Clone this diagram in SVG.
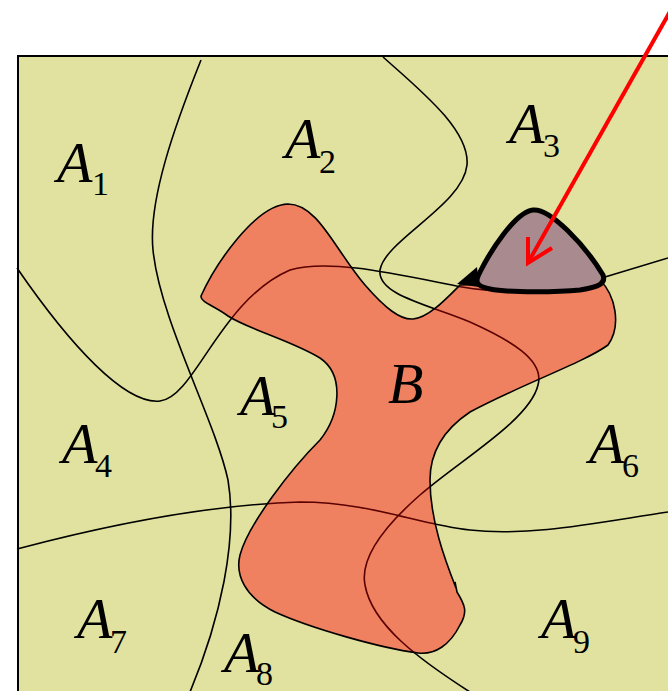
<svg xmlns="http://www.w3.org/2000/svg" xmlns:xlink="http://www.w3.org/1999/xlink" width="668" height="691" viewBox="0 0 668 691">
<style>
.bd{fill:none;stroke:#000;stroke-width:1.6}
.bdi{fill:none;stroke:#5a0000;stroke-width:1.6}
.lab{font-family:"Liberation Serif","Times New Roman",serif;font-style:italic;font-size:58px;fill:#000}
.sub{font-family:"Liberation Serif","Times New Roman",serif;font-size:34px;fill:#000}
</style>
<defs>
<path id="c1" d="M201,60 C175,125 148,200 153,250 C160,320 215,420 228,480 C238,540 220,620 190,692"/>
<path id="c2" d="M17,268 C70,345 125,405 160,401 C195,397 220,300 290,270 C330,258 400,275 462,287 C520,297 580,285 605,277 L668,258"/>
<path id="c3" d="M383,57 C420,90 470,130 467,165 C463,205 385,240 380,270 C377,295 430,305 470,322 C510,340 545,360 538,385 C530,420 460,460 420,495 C380,530 360,560 365,585 C372,625 420,660 470,692"/>
<path id="c4" d="M17,549 C100,527 200,505 300,502 C370,502 420,525 470,530 C530,537 600,522 668,512"/>
<path id="bpath" d="M201,296 C215,265 255,205 288,204 C318,204 335,250 365,285 C385,308 400,320 413,319 C428,318 445,300 460,285 L600,280 C615,295 622,325 608,345 C585,362 520,385 470,412 C440,432 430,455 430,480 C430,520 445,560 456,588 L455,582 L457,592 C465,605 468,612 460,625 C450,645 435,655 418,653 C380,648 310,628 275,612 C245,597 235,575 240,555 C248,525 290,470 320,440 C340,415 345,375 320,358 C290,340 250,330 228,316 C215,306 200,302 201,296 Z"/>
<clipPath id="bclip"><use xlink:href="#bpath"/></clipPath>
</defs>
<rect x="18" y="56" width="700" height="700" fill="#e1e29f" stroke="#000" stroke-width="2"/>
<g id="connectors">
<use xlink:href="#c1" class="bd"/>
<use xlink:href="#c2" class="bd"/>
<use xlink:href="#c3" class="bd"/>
<use xlink:href="#c4" class="bd"/>
</g>
<g id="B">
<use xlink:href="#bpath" fill="#ef8060" stroke="none"/>
<g clip-path="url(#bclip)">
<use xlink:href="#c2" class="bdi"/>
<use xlink:href="#c3" class="bdi"/>
<use xlink:href="#c4" class="bdi"/>
</g>
<use xlink:href="#bpath" class="bd"/>
<text class="lab" x="388" y="403">B</text>
</g>
<g id="grey">
<polygon points="457,284 477,267 479,287" fill="#000"/>
<path d="M533,210 C550,208 585,245 603,275 C606,283 600,287 580,290 C560,292 510,293 490,289 C475,286 475,281 480,272 C490,252 515,212 533,210 Z" fill="#a98a8f" stroke="#000" stroke-width="5"/>
</g>
<g id="arrow" fill="none" stroke="#ff0000" stroke-width="4">
<line x1="672" y1="8" x2="529" y2="261"/>
<polyline points="528,237 528,263 552,248"/>
</g>
<g id="labels">
<text class="lab" x="57" y="182">A</text><text class="sub" x="92" y="195">1</text>
<text class="lab" x="285" y="158">A</text><text class="sub" x="319" y="173">2</text>
<text class="lab" x="509" y="143">A</text><text class="sub" x="543" y="157">3</text>
<text class="lab" x="62" y="463">A</text><text class="sub" x="95" y="477">4</text>
<text class="lab" x="240" y="415">A</text><text class="sub" x="271" y="428">5</text>
<text class="lab" x="589" y="463">A</text><text class="sub" x="622" y="477">6</text>
<text class="lab" x="77" y="638">A</text><text class="sub" x="110" y="653">7</text>
<text class="lab" x="224" y="672">A</text><text class="sub" x="256" y="685">8</text>
<text class="lab" x="541" y="638">A</text><text class="sub" x="573" y="653">9</text>
</g>
</svg>
